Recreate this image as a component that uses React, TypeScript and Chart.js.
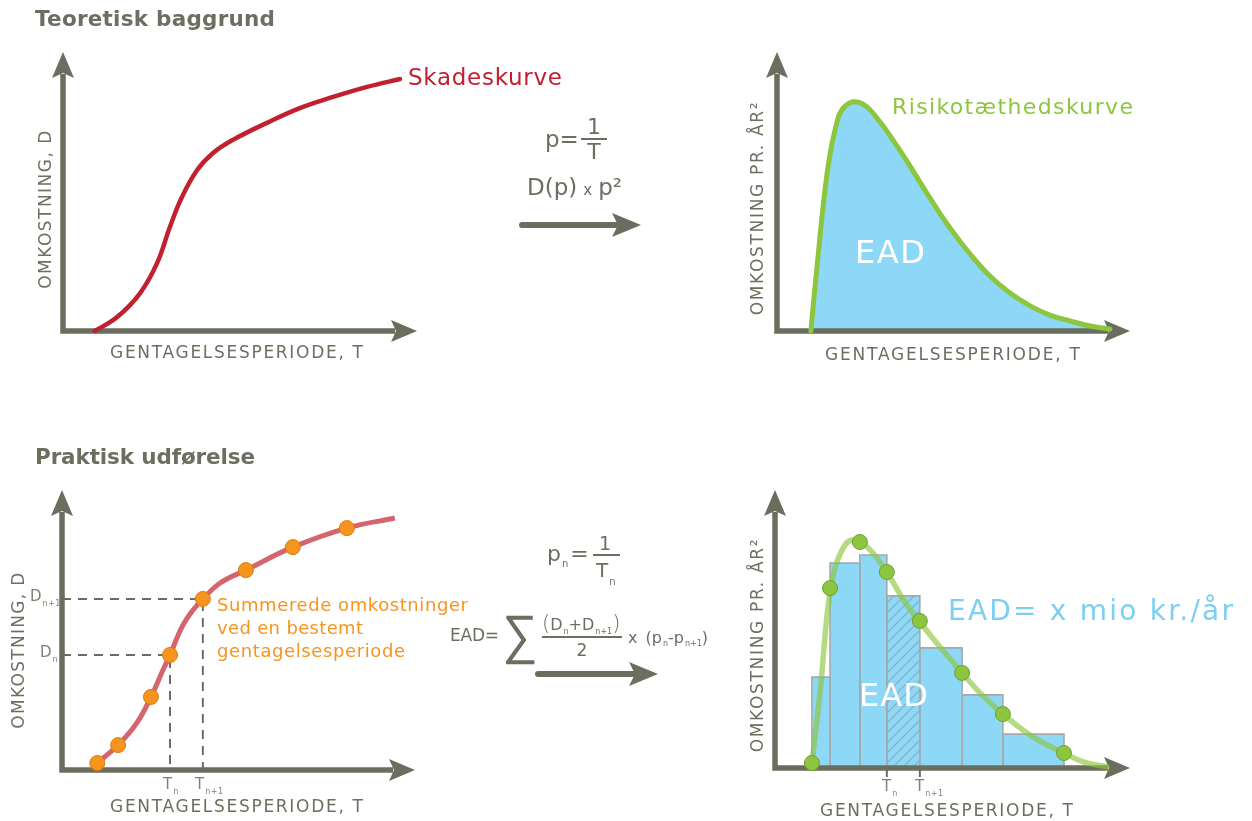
import React, { useEffect, useRef } from 'react';
import { Chart, registerables } from 'chart.js';

Chart.register(...registerables);

const GRAY = '#6b6d5e';
const TEXT = '#6d6e60';
const LIGHT_TEXT = '#808175';
const RED = '#c1202f';
const PINK = '#d4646e';
const ORANGE = '#f7941d';
const ORANGE_EDGE = '#d97e14';
const GREEN = '#8cc63f';
const GREEN_EDGE = '#6e9f33';
const GREEN_SOFT = 'rgba(140,198,63,0.65)';
const BLUE = '#8dd7f7';
const BLUE_TEXT = '#7dcff2';
const BAR_EDGE = '#a4a9ab';
const HATCH = '#98a6ae';
const FONT = '"DejaVu Sans", Lato, sans-serif';

// ---------- Data ----------
// Teoretisk: skadeskurve D(T)
const skadeT = [0.9, 1.53, 2.18, 2.66, 3.02, 3.36, 3.79, 4.24, 4.8, 5.76, 6.69, 7.63, 8.59, 9.52];
const skadeD = [0.0, 0.5, 1.36, 2.44, 3.73, 4.8, 5.77, 6.38, 6.85, 7.46, 7.99, 8.39, 8.75, 9.03];

// Teoretisk: risikotæthedskurve
const risikoT = [0.96, 1.13, 1.44, 1.73, 1.93, 2.2, 2.52, 2.92, 3.34, 3.77, 4.33, 4.9, 5.47, 6.03, 6.6, 7.17, 7.73, 8.3, 8.87, 9.43];
const risikoV = [0.0, 2.26, 5.84, 7.63, 8.06, 8.22, 8.06, 7.49, 6.74, 5.91, 4.77, 3.69, 2.76, 1.97, 1.36, 0.9, 0.57, 0.36, 0.18, 0.07];

// Praktisk: skadeskurve med beregnede punkter
const praktiskT = [1.0, 1.59, 2.12, 2.52, 2.86, 3.06, 3.4, 3.71, 3.99, 4.48, 5.21, 6.54, 8.07, 9.43];
const praktiskD = [0.25, 0.89, 1.68, 2.61, 3.57, 4.11, 5.11, 5.71, 6.11, 6.68, 7.14, 7.96, 8.64, 9.0];
const punktT = [1.0, 1.59, 2.52, 3.06, 3.99, 5.21, 6.54, 8.07];
const punktD = [0.25, 0.89, 2.61, 4.11, 6.11, 7.14, 7.96, 8.64];
const nIndex = 3; // punkt n (n+1 = nIndex + 1)

// Praktisk: risikotæthed med søjler
const soejleKanter = [1.04, 1.55, 2.39, 3.15, 4.08, 5.27, 6.42, 8.14];
const soejleHoejder = [3.27, 7.37, 7.66, 6.19, 4.32, 2.63, 1.22];
const skraveretSoejle = 3;
const risikoPunktT = [1.04, 1.55, 2.39, 3.15, 4.08, 5.27, 6.42, 8.14];
const risikoPunktV = [0.18, 6.47, 8.13, 7.05, 5.29, 3.42, 1.94, 0.54];
const kurve2T = [1.04, 1.27, 1.49, 1.69, 1.97, 2.17, 2.42, 2.76, 3.15, 3.66, 4.08, 4.65, 5.27, 5.83, 6.42, 7.1, 7.66, 8.14, 8.68, 9.35];
const kurve2V = [0.18, 2.73, 5.76, 7.19, 8.02, 8.2, 8.13, 7.73, 7.05, 5.97, 5.25, 4.35, 3.42, 2.63, 1.94, 1.26, 0.83, 0.54, 0.22, 0.04];

const xy = (xs: number[], ys: number[]) => xs.map((x, i) => ({ x, y: ys[i] }));

// ---------- Axis plugin ----------
function drawAxes(chart: any, opts: any) {
  const { ctx, chartArea: a } = chart;
  const w = 5.5;
  const hl = 26;
  const hw = 11;
  ctx.save();
  ctx.strokeStyle = GRAY;
  ctx.fillStyle = GRAY;
  ctx.lineWidth = w;
  ctx.beginPath();
  ctx.moveTo(a.left, a.bottom + w / 2);
  ctx.lineTo(a.left, a.top + hl - 4);
  ctx.moveTo(a.left - w / 2, a.bottom);
  ctx.lineTo(a.right - hl + 4, a.bottom);
  ctx.stroke();
  ctx.beginPath();
  ctx.moveTo(a.left, a.top);
  ctx.lineTo(a.left + hw, a.top + hl);
  ctx.lineTo(a.left, a.top + hl - 5);
  ctx.lineTo(a.left - hw, a.top + hl);
  ctx.closePath();
  ctx.fill();
  ctx.beginPath();
  ctx.moveTo(a.right, a.bottom);
  ctx.lineTo(a.right - hl, a.bottom - hw);
  ctx.lineTo(a.right - hl + 5, a.bottom);
  ctx.lineTo(a.right - hl, a.bottom + hw);
  ctx.closePath();
  ctx.fill();
  const ticks: number[] = (opts && opts.ticks) || [];
  ctx.lineWidth = 2;
  ticks.forEach((t) => {
    const x = chart.scales.x.getPixelForValue(t);
    ctx.beginPath();
    ctx.moveTo(x, a.bottom);
    ctx.lineTo(x, a.bottom + 9);
    ctx.stroke();
  });
  ctx.restore();
}

const arrowAxes = {
  id: 'arrowAxes',
  beforeDatasetsDraw(chart: any, _args: any, opts: any) {
    if (opts == null || opts.after == null) drawAxes(chart, opts);
  },
  afterDatasetDraw(chart: any, args: any, opts: any) {
    if (opts && opts.after === args.index) drawAxes(chart, opts);
  },
};

function baseOptions(padding: any, axesOpts: any) {
  return {
    responsive: false,
    maintainAspectRatio: false,
    animation: false,
    devicePixelRatio: 1,
    events: [],
    layout: { padding },
    scales: {
      x: { type: 'linear', min: 0, max: 10, display: false },
      y: { type: 'linear', min: 0, max: 10, display: false },
    },
    plugins: {
      legend: { display: false },
      tooltip: { enabled: false },
      arrowAxes: axesOpts,
    },
  };
}

function makeHatch() {
  const c = document.createElement('canvas');
  c.width = 10;
  c.height = 10;
  const g = c.getContext('2d')!;
  g.fillStyle = BLUE;
  g.fillRect(0, 0, 10, 10);
  g.strokeStyle = HATCH;
  g.lineWidth = 1.1;
  g.beginPath();
  g.moveTo(-2, 12);
  g.lineTo(12, -2);
  g.moveTo(-7, 7);
  g.lineTo(7, -7);
  g.moveTo(3, 17);
  g.lineTo(17, 3);
  g.stroke();
  return g.createPattern(c, 'repeat');
}

// ---------- Text helpers ----------
let measureCtx: CanvasRenderingContext2D | null = null;
function fitSpacing(text: string, size: number, weight: number, target: number) {
  if (!measureCtx) measureCtx = document.createElement('canvas').getContext('2d');
  measureCtx!.font = `${weight} ${size}px ${FONT}`;
  const w = measureCtx!.measureText(text).width;
  const n = Array.from(text).length;
  return (target - w) / Math.max(1, n - 1);
}

function Label(props: any) {
  const { text, x, y, size, color, weight = 400, width, rotate, center } = props;
  const ls = width ? fitSpacing(text, size, weight, width) : 0;
  const transform = rotate
    ? 'translate(-50%,-50%) rotate(-90deg)'
    : center
    ? 'translate(-50%,-50%)'
    : 'translateY(-50%)';
  return (
    <div
      style={{
        position: 'absolute',
        left: x,
        top: y,
        transform,
        fontSize: size,
        fontWeight: weight,
        color,
        letterSpacing: ls,
        lineHeight: 1,
        whiteSpace: 'nowrap',
      }}
    >
      {text}
    </div>
  );
}

function SubLabel(props: any) {
  const { x, y, main, sub, size = 15, subSize = 8, color = LIGHT_TEXT } = props;
  return (
    <div
      style={{
        position: 'absolute',
        left: x,
        top: y,
        transform: 'translateY(-50%)',
        fontSize: size,
        fontWeight: 400,
        color,
        lineHeight: 1,
        whiteSpace: 'nowrap',
      }}
    >
      {main}
      <span style={{ fontSize: subSize, position: 'relative', top: size * 0.35, marginLeft: 1, letterSpacing: 0.5 }}>{sub}</span>
    </div>
  );
}

function Sub({ children, size = 10, dy = 4 }: any) {
  return <span style={{ fontSize: size, position: 'relative', top: dy, marginLeft: 1 }}>{children}</span>;
}

export default function App() {
  const r1 = useRef<HTMLCanvasElement>(null);
  const r2 = useRef<HTMLCanvasElement>(null);
  const r3 = useRef<HTMLCanvasElement>(null);
  const r4 = useRef<HTMLCanvasElement>(null);

  useEffect(() => {
    const charts: Chart[] = [];

    charts.push(
      new Chart(r1.current!, {
        type: 'line',
        data: {
          datasets: [
            {
              data: xy(skadeT, skadeD),
              borderColor: RED,
              borderWidth: 4.5,
              tension: 0.4,
              pointRadius: 0,
              fill: false,
              clip: false,
              borderCapStyle: 'round',
            } as any,
          ],
        },
        options: baseOptions({ left: 33, right: 13, top: 12, bottom: 19 }, {}) as any,
        plugins: [arrowAxes],
      })
    );

    charts.push(
      new Chart(r2.current!, {
        type: 'line',
        data: {
          datasets: [
            {
              data: xy(risikoT, risikoV),
              borderColor: 'rgba(0,0,0,0)',
              borderWidth: 0,
              backgroundColor: BLUE,
              fill: 'origin',
              tension: 0.4,
              pointRadius: 0,
              clip: false,
              order: 2,
            } as any,
            {
              data: xy(risikoT, risikoV),
              borderColor: GREEN,
              borderWidth: 5,
              fill: false,
              tension: 0.4,
              pointRadius: 0,
              clip: false,
              order: 1,
              borderCapStyle: 'round',
            } as any,
          ],
        },
        options: baseOptions({ left: 37, right: 20, top: 12, bottom: 19 }, { after: 0 }) as any,
        plugins: [arrowAxes],
      })
    );

    const tn = punktT[nIndex];
    const dn = punktD[nIndex];
    const tn1 = punktT[nIndex + 1];
    const dn1 = punktD[nIndex + 1];
    charts.push(
      new Chart(r3.current!, {
        type: 'line',
        data: {
          datasets: [
            {
              data: xy(punktT, punktD),
              showLine: false,
              pointRadius: 7.5,
              pointBackgroundColor: ORANGE,
              pointBorderColor: ORANGE_EDGE,
              pointBorderWidth: 1,
              clip: false,
              order: 1,
            } as any,
            {
              data: xy(praktiskT, praktiskD),
              borderColor: PINK,
              borderWidth: 5,
              tension: 0.4,
              pointRadius: 0,
              fill: false,
              clip: false,
              order: 2,
            } as any,
            {
              data: [
                { x: 0, y: dn },
                { x: tn, y: dn },
                { x: tn, y: 0 },
              ],
              borderColor: GRAY,
              borderWidth: 2,
              borderDash: [9, 7],
              tension: 0,
              pointRadius: 0,
              fill: false,
              clip: false,
              order: 3,
            } as any,
            {
              data: [
                { x: 0, y: dn1 },
                { x: tn1, y: dn1 },
                { x: tn1, y: 0 },
              ],
              borderColor: GRAY,
              borderWidth: 2,
              borderDash: [9, 7],
              tension: 0,
              pointRadius: 0,
              fill: false,
              clip: false,
              order: 3,
            } as any,
          ],
        },
        options: baseOptions({ left: 32, right: 15, top: 10, bottom: 20 }, {}) as any,
        plugins: [arrowAxes],
      })
    );

    const hatch = makeHatch();
    const barSets: any[] = soejleHoejder.map((h, i) => ({
      data: [
        { x: soejleKanter[i], y: 0 },
        { x: soejleKanter[i], y: h },
        { x: soejleKanter[i + 1], y: h },
        { x: soejleKanter[i + 1], y: 0 },
      ],
      borderColor: BAR_EDGE,
      borderWidth: 1.6,
      backgroundColor: i === skraveretSoejle ? hatch : BLUE,
      fill: 'origin',
      tension: 0,
      pointRadius: 0,
      clip: false,
      order: 3,
    }));
    charts.push(
      new Chart(r4.current!, {
        type: 'line',
        data: {
          datasets: [
            ...barSets,
            {
              data: xy(kurve2T, kurve2V),
              borderColor: GREEN_SOFT,
              borderWidth: 5.5,
              tension: 0.4,
              pointRadius: 0,
              fill: false,
              clip: false,
              order: 2,
              borderCapStyle: 'round',
            },
            {
              data: xy(risikoPunktT, risikoPunktV),
              showLine: false,
              pointRadius: 7.5,
              pointBackgroundColor: GREEN,
              pointBorderColor: GREEN_EDGE,
              pointBorderWidth: 1,
              clip: false,
              order: 1,
            },
          ] as any,
        },
        options: baseOptions(
          { left: 35, right: 20, top: 10, bottom: 22 },
          { after: 0, ticks: [soejleKanter[skraveretSoejle], soejleKanter[skraveretSoejle + 1]] }
        ) as any,
        plugins: [arrowAxes],
      })
    );

    return () => charts.forEach((c) => c.destroy());
  }, []);

  const cv = (left: number, top: number): React.CSSProperties => ({ position: 'absolute', left, top });

  return (
    <div
      style={{
        position: 'absolute',
        left: 0,
        top: 0,
        width: 1252,
        height: 821,
        background: '#ffffff',
        overflow: 'hidden',
        fontFamily: FONT,
        color: TEXT,
      }}
    >
      <canvas ref={r1} width={400} height={310} style={cv(30, 40)} />
      <canvas ref={r2} width={410} height={310} style={cv(740, 40)} />
      <canvas ref={r3} width={400} height={310} style={cv(30, 480)} />
      <canvas ref={r4} width={410} height={310} style={cv(740, 480)} />

      <svg width={1252} height={821} style={{ position: 'absolute', left: 0, top: 0, pointerEvents: 'none' }}>
        <line x1={522} y1={225} x2={618} y2={225} stroke={GRAY} strokeWidth={6} strokeLinecap="round" />
        <polygon points="641,225 612,213 618,225 612,237" fill={GRAY} />
        <line x1={538} y1={674} x2={635} y2={674} stroke={GRAY} strokeWidth={6} strokeLinecap="round" />
        <polygon points="658,674 629,662 635,674 629,686" fill={GRAY} />
      </svg>

      {/* Titles */}
      <Label text="Teoretisk baggrund" x={35} y={19} size={21.5} weight={700} color={TEXT} width={240} />
      <Label text="Praktisk udførelse" x={35} y={457} size={21.5} weight={700} color={TEXT} width={220} />

      {/* Chart 1 */}
      <Label text="Skadeskurve" x={408} y={77} size={23} color={RED} width={154} />
      <Label text="OMKOSTNING, D" x={45} y={209} size={17} color={TEXT} width={158} rotate />
      <Label text="GENTAGELSESPERIODE, T" x={110} y={352} size={17} color={TEXT} width={253} />

      {/* Top formula */}
      <Label text="p=" x={545} y={139} size={23} color={TEXT} />
      <Label text="1" x={594} y={127} size={22} color={TEXT} center />
      <div style={{ position: 'absolute', left: 581, top: 138, width: 26, height: 2, background: TEXT }} />
      <Label text="T" x={594} y={152} size={22} color={TEXT} center />
      <div
        style={{
          position: 'absolute',
          left: 527,
          top: 187,
          transform: 'translateY(-50%)',
          fontSize: 23,
          lineHeight: 1,
          whiteSpace: 'nowrap',
          color: TEXT,
        }}
      >
        D(p)<span style={{ fontSize: 15, margin: '0 6px' }}>x</span>p²
      </div>

      {/* Chart 2 */}
      <Label text="Risikotæthedskurve" x={892} y={107} size={22} color={GREEN} width={241} />
      <Label text="EAD" x={855} y={252} size={32} color="#ffffff" width={70} />
      <Label text="OMKOSTNING PR. ÅR²" x={757} y={208} size={17} color={TEXT} width={213} rotate />
      <Label text="GENTAGELSESPERIODE, T" x={825} y={354} size={17} color={TEXT} width={255} />

      {/* Chart 3 */}
      <Label text="OMKOSTNING, D" x={18} y={650} size={17} color={TEXT} width={156} rotate />
      <Label text="GENTAGELSESPERIODE, T" x={110} y={806} size={17} color={TEXT} width={253} />
      <SubLabel x={30} y={596} main="D" sub="n+1" />
      <SubLabel x={40} y={652} main="D" sub="n" />
      <SubLabel x={163} y={784} main="T" sub="n" />
      <SubLabel x={195} y={784} main="T" sub="n+1" />
      <Label text="Summerede omkostninger" x={217} y={605} size={18} color={ORANGE} width={251} />
      <Label text="ved en bestemt" x={217} y={628} size={18} color={ORANGE} width={146} />
      <Label text="gentagelsesperiode" x={217} y={651} size={18} color={ORANGE} width={188} />

      {/* Bottom formula */}
      <div style={{ position: 'absolute', left: 547, top: 554, transform: 'translateY(-50%)', fontSize: 22, lineHeight: 1, color: TEXT, whiteSpace: 'nowrap' }}>
        p<Sub size={10} dy={6}>n</Sub>
        <span style={{ marginLeft: 2 }}>=</span>
      </div>
      <Label text="1" x={605} y={543} size={19} color={TEXT} center />
      <div style={{ position: 'absolute', left: 593, top: 554, width: 27, height: 2, background: TEXT }} />
      <div style={{ position: 'absolute', left: 596, top: 570, transform: 'translateY(-50%)', fontSize: 20, lineHeight: 1, color: TEXT, whiteSpace: 'nowrap' }}>
        T<Sub size={10} dy={8}>n</Sub>
      </div>
      <Label text="EAD=" x={450} y={635} size={17} color={TEXT} width={49} />
      <div
        style={{
          position: 'absolute',
          left: 520,
          top: 634,
          transform: 'translate(-50%,-50%) scale(1.55,1.7)',
          fontFamily: '"DejaVu Sans", sans-serif',
          fontWeight: 200,
          fontSize: 32,
          lineHeight: 1,
          color: TEXT,
        }}
      >
        ∑
      </div>
      <div style={{ position: 'absolute', left: 542, top: 623, transform: 'translateY(-50%)', fontSize: 16, lineHeight: 1, color: TEXT, whiteSpace: 'nowrap' }}>
        <span style={{ fontSize: 21, fontWeight: 200 }}>(</span>D<Sub size={8} dy={4}>n</Sub>+D<Sub size={8} dy={4}>n+1</Sub>
        <span style={{ fontSize: 21, fontWeight: 200 }}>)</span>
      </div>
      <div style={{ position: 'absolute', left: 542, top: 636, width: 80, height: 2, background: TEXT }} />
      <Label text="2" x={582} y={650} size={17} color={TEXT} center />
      <div style={{ position: 'absolute', left: 628, top: 638, transform: 'translateY(-50%)', fontSize: 16, lineHeight: 1, color: TEXT, whiteSpace: 'nowrap' }}>
        x <span style={{ marginLeft: 3 }}>(p</span>
        <Sub size={8} dy={3}>n</Sub>-p<Sub size={8} dy={3}>n+1</Sub>)
      </div>

      {/* Chart 4 */}
      <Label text="EAD" x={859} y={695} size={32} color="#ffffff" width={69} />
      <Label text="EAD= x mio kr./år" x={948} y={611} size={28} color={BLUE_TEXT} width={285} />
      <Label text="OMKOSTNING PR. ÅR²" x={757} y={645} size={17} color={TEXT} width={213} rotate />
      <Label text="GENTAGELSESPERIODE, T" x={820} y={810} size={17} color={TEXT} width={253} />
      <SubLabel x={882} y={786} main="T" sub="n" />
      <SubLabel x={915} y={786} main="T" sub="n+1" />
    </div>
  );
}
